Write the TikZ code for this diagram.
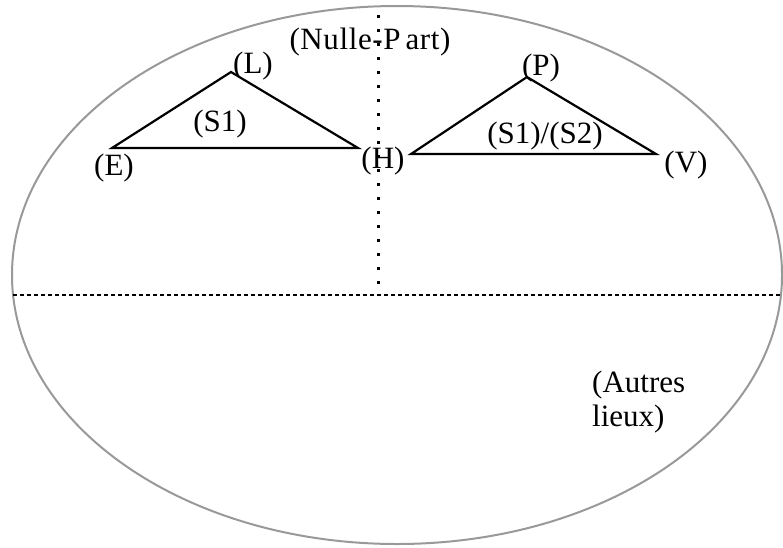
\documentclass[tikz,border=0pt]{standalone}
\usepackage{fontspec}
\setmainfont{Liberation Serif}
\tikzset{
  lbl/.style={inner sep=0pt, font=\fontsize{31}{31}\selectfont},
  tri/.style={line width=2.2pt, black, line join=miter},
  vdots/.style={line width=3pt, dash pattern=on 3pt off 11pt},
  hdots/.style={line width=2pt, dash pattern=on 4pt off 3pt},
  oval/.style={draw=black!40, line width=2pt}
}
\begin{document}
\begin{tikzpicture}[x=1pt,y=-1pt]
\useasboundingbox (0,0) rectangle (783,547);
\draw[oval] (397,275) ellipse [x radius=385, y radius=269];
\coordinate (vt) at (378,15);
\coordinate (vb) at (378,290);
\draw[vdots] (vt) -- (vb);
\coordinate (hl) at (13,295);
\coordinate (hr) at (783,295);
\draw[hdots] (hl) -- (hr);
\coordinate (e) at (112,148);
\coordinate (l) at (231,72);
\coordinate (h) at (358,148);
\draw[tri] (e) -- (l) -- (h) -- cycle;
\coordinate (g) at (411,154);
\coordinate (p) at (527,77);
\coordinate (v) at (656,154);
\draw[tri] (g) -- (p) -- (v) -- cycle;
\node[lbl] (nE) at (114,168) {(E)};
\node[lbl] (nL) at (253,66) {(L)};
\node[lbl] (nH) at (383,161) {(H)};
\node[lbl] (nS1) at (220,124) {(S1)};
\node[lbl] (nP) at (541,68) {(P)};
\node[lbl] (nS12) at (545,136) {(S1)/(S2)};
\node[lbl] (nV) at (686,165) {(V)};
\node[lbl] (nNP) at (370,42) {\addfontfeatures{LetterSpace=2}(Nulle-P\hspace{5pt}art)};
\node[lbl, anchor=west, align=left, font=\fontsize{31}{32}\selectfont] (nAL) at (592,402) {(Autres\\[2pt]lieux)};
\end{tikzpicture}
\end{document}
